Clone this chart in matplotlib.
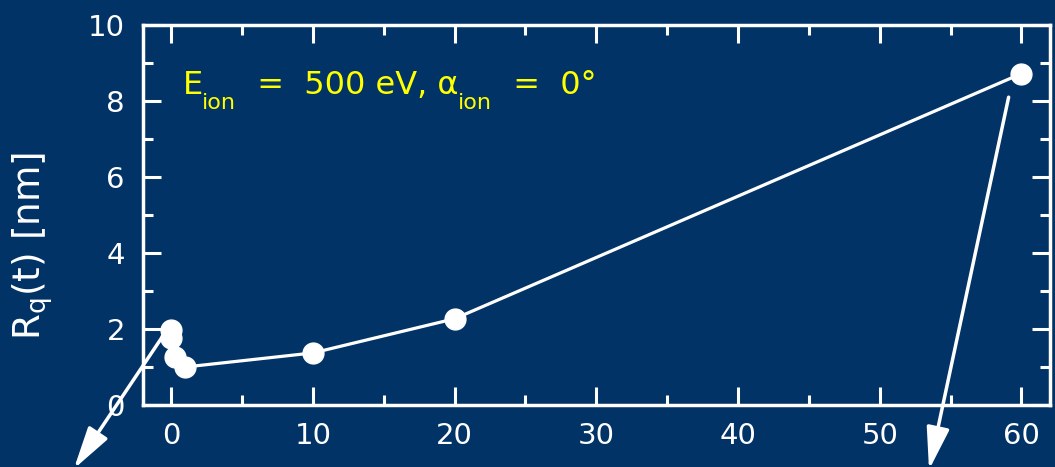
import matplotlib
matplotlib.use("Agg")
import matplotlib.pyplot as plt
from matplotlib.ticker import MultipleLocator
from matplotlib import transforms

# ---------------------------------------------------------------------------
# Data
# ---------------------------------------------------------------------------
time_min = [0.0, 0.0, 0.25, 1.0, 10.0, 20.0, 60.0]
rq_nm = [1.97, 1.75, 1.25, 1.0, 1.37, 2.27, 8.72]

# annotation pieces: (text, is_subscript)
label_parts = [("E", False), ("ion", True), ("  =  500 eV, α", False),
               ("ion", True), ("  =  0°", False)]

BG = "#013366"
FG = "white"
YELLOW = "#ffff00"

plt.rcParams.update({
    "font.family": ["DejaVu Sans"],
    "mathtext.fontset": "dejavusans",
    "font.size": 21,
})

fig = plt.figure(figsize=(10.55, 4.67), dpi=100, facecolor=BG)
ax = fig.add_axes([0.1355, 0.1328, 0.8595, 0.8137], facecolor=BG)

ax.plot(time_min, rq_nm, color=FG, lw=2.3, marker="o", ms=15,
        mfc=FG, mec=FG, zorder=5, clip_on=False)

ax.set_xlim(-2, 62)
ax.set_ylim(0, 10)
ax.xaxis.set_major_locator(MultipleLocator(10))
ax.xaxis.set_minor_locator(MultipleLocator(5))
ax.yaxis.set_major_locator(MultipleLocator(2))
ax.yaxis.set_minor_locator(MultipleLocator(1))

for s in ax.spines.values():
    s.set_color(FG)
    s.set_linewidth(2.5)
ax.tick_params(which="both", direction="in", top=True, right=True,
               colors=FG, width=2.2, labelsize=21)
ax.tick_params(axis="y", pad=13)
ax.tick_params(axis="x", pad=12)
ax.tick_params(which="major", length=13)
ax.tick_params(which="minor", length=7)

ax.set_ylabel(r"R$_\mathregular{q}$(t) [nm]", color=FG, fontsize=27, va="center")
ax.yaxis.set_label_coords(-0.122, 0.42)

# annotation text built piece by piece (large, low subscripts)
renderer = fig.canvas.get_renderer()
x_off = 0.0
for txt, sub in label_parts:
    tr = transforms.offset_copy(ax.transAxes, fig=fig, x=x_off,
                                y=-15 if sub else 0, units="dots")
    t = ax.text(0.044, 0.818, txt, transform=tr, color=YELLOW,
                fontsize=16 if sub else 23, va="baseline", ha="left")
    bb = t.get_window_extent(renderer)
    x_off += bb.width + (1 if sub else -1)

# arrows leading off the chart
arrow_kw = dict(arrowstyle="-|>,head_length=1.3,head_width=0.35",
                color=FG, lw=2.5, mutation_scale=20, shrinkA=0, shrinkB=0)
ax.annotate("", xy=(0.07, -0.004), xycoords="figure fraction",
            xytext=(-0.64, 1.79), textcoords="data",
            arrowprops=arrow_kw, annotation_clip=False)
ax.annotate("", xy=(0.8806, -0.006), xycoords="figure fraction",
            xytext=(59.1, 8.1), textcoords="data",
            arrowprops=arrow_kw, annotation_clip=False)

fig.savefig("out.png", dpi=100, facecolor=BG)
